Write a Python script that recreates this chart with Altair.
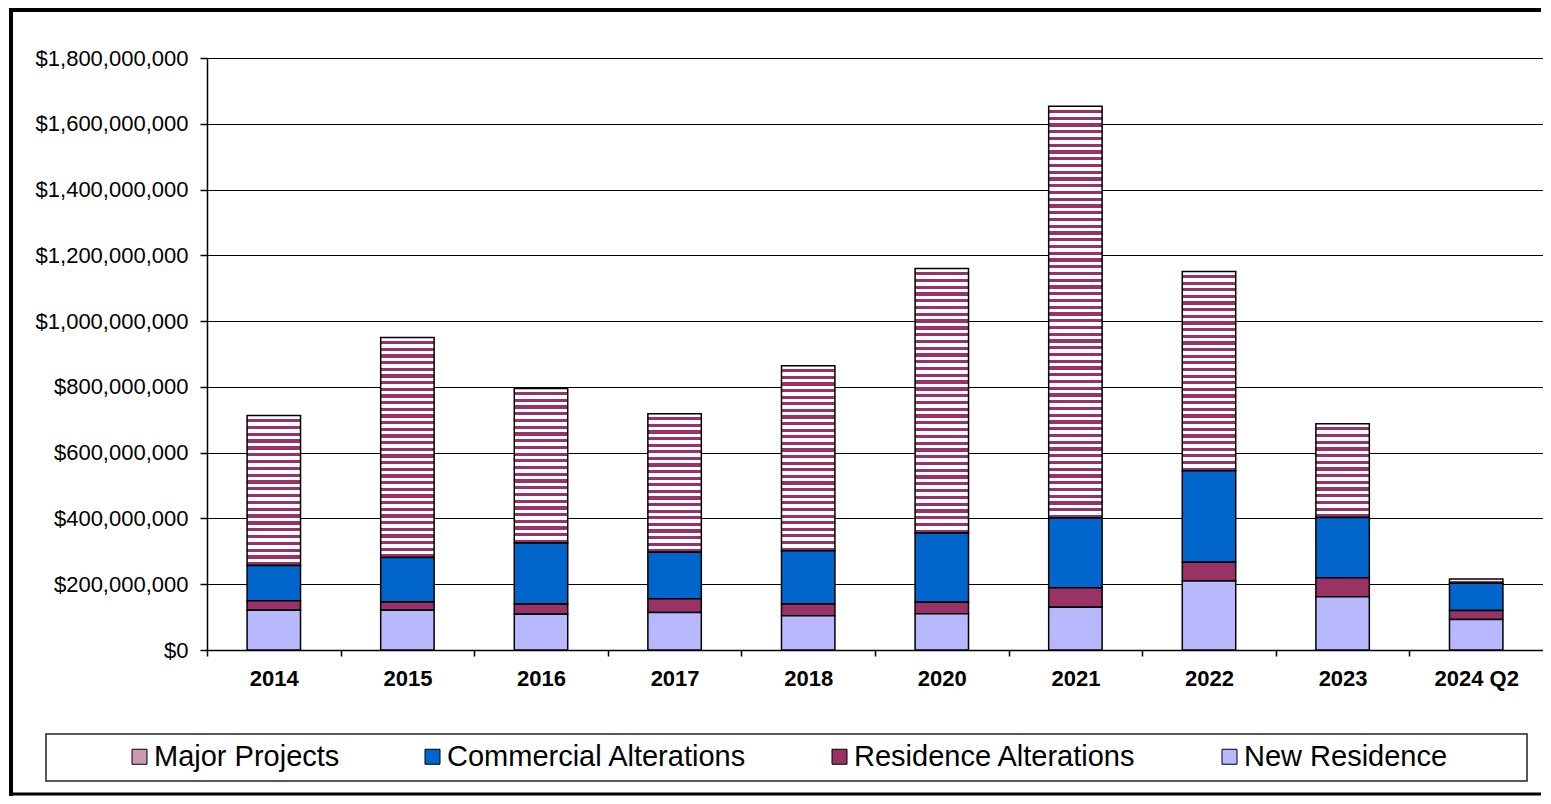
import altair as alt
import pandas as pd

years = ["2014", "2015", "2016", "2017", "2018", "2020", "2021", "2022", "2023", "2024 Q2"]
major_projects = [456e6, 669e6, 470e6, 421e6, 562e6, 804e6, 1252e6, 606e6, 285e6, 13e6]
commercial_alterations = [107e6, 135e6, 185e6, 141e6, 162e6, 211e6, 212e6, 278e6, 183e6, 83e6]
residence_alterations = [29e6, 25e6, 31e6, 42e6, 36e6, 35e6, 59e6, 57e6, 58e6, 27e6]
new_residence = [121e6, 121e6, 109e6, 114e6, 104e6, 110e6, 130e6, 210e6, 162e6, 93e6]
series_names = ["Major Projects", "Commercial Alterations", "Residence Alterations", "New Residence"]
y_ticks = [0, 2e8, 4e8, 6e8, 8e8, 1e9, 1.2e9, 1.4e9, 1.6e9, 1.8e9]

series_values = [major_projects, commercial_alterations, residence_alterations, new_residence]
stack_rank = {"New Residence": 0, "Residence Alterations": 1,
              "Commercial Alterations": 2, "Major Projects": 3}

rows = []
for name, vals in zip(series_names, series_values):
    for yr, v in zip(years, vals):
        rows.append({"year": yr, "series": name, "value": v, "rank": stack_rank[name]})
df = pd.DataFrame(rows)

PLOT_W, PLOT_H = 1336, 592
YMAX = 1.8e9
MAROON = "#993366"


def stripe_gradient(value):
    h = value / YMAX * PLOT_H
    n = max(1, round(h / 6.7))
    stops = []
    for k in range(n):
        a = k / n
        b = (k + 0.52) / n
        c = min(1.0, (k + 1) / n)
        stops += [
            {"offset": a, "color": "#ffffff"},
            {"offset": b, "color": "#ffffff"},
            {"offset": b, "color": MAROON},
            {"offset": c, "color": MAROON},
        ]
    return {"gradient": "linear", "x1": 0, "y1": 0, "x2": 0, "y2": 1, "stops": stops}


conditions = [
    {"test": f"datum.series === 'Major Projects' && datum.year === '{yr}'",
     "value": stripe_gradient(v)}
    for yr, v in zip(years, major_projects)
]

FONT = "Liberation Sans"
step = PLOT_W / len(years)

bars = alt.Chart(df).mark_bar(stroke="black", strokeWidth=1.5, fillOpacity=1).encode(
    x=alt.X("year:N", sort=years,
            scale=alt.Scale(paddingInner=0.6, paddingOuter=0.3),
            axis=alt.Axis(title=None, labelAngle=0, labelFont=FONT, labelFontSize=22,
                          labelFontWeight="bold", labelColor="black",
                          domainColor="black", domainWidth=1.5, tickColor="black",
                          tickSize=6, tickWidth=1.5, labelPadding=12, grid=False,
                          tickOffset=-step / 2, labelOffset=step / 2)),
    y=alt.Y("value:Q", stack="zero",
            scale=alt.Scale(domain=[0, YMAX], nice=False),
            axis=alt.Axis(title=None, values=y_ticks, format="$,.0f", labelFont=FONT,
                          labelFontSize=22, labelColor="black", tickSize=7,
                          tickColor="black", tickWidth=1.5, domainColor="black",
                          domainWidth=1.5, gridColor="black", gridWidth=1,
                          gridOpacity=1, labelPadding=12)),
    order=alt.Order("rank:Q", sort="ascending"),
    fill=alt.Fill("series:N",
                  scale=alt.Scale(domain=series_names,
                                  range=["#cc99b3", "#0066cc", MAROON, "#b8b8ff"]),
                  legend=alt.Legend(title=None, orient="none", legendX=-82, legendY=684,
                                    direction="horizontal", symbolType="square",
                                    symbolSize=225, labelFont=FONT, labelFontSize=29,
                                    labelColor="black", labelOffset=0, columnPadding=78,
                                    symbolStrokeColor="black", symbolStrokeWidth=1,
                                    symbolOpacity=1, padding=0, labelLimit=500),
                  condition=conditions),
)

dummy = pd.DataFrame({"a": [0]})

frame_top = alt.Chart(dummy).mark_rule(stroke="black", strokeWidth=4).encode(
    x=alt.value(-197), x2=alt.value(1334), y=alt.value(-48)
)
frame_left = alt.Chart(dummy).mark_rule(stroke="black", strokeWidth=4).encode(
    x=alt.value(-196), y=alt.value(-50), y2=alt.value(738)
)
frame_bottom = alt.Chart(dummy).mark_rule(stroke="black", strokeWidth=3).encode(
    x=alt.value(-198), x2=alt.value(1334), y=alt.value(736)
)

legend_box = alt.Chart(dummy).mark_rect(fillOpacity=0, stroke="#222222", strokeWidth=1.5).encode(
    x=alt.value(-161), x2=alt.value(1320), y=alt.value(676), y2=alt.value(723)
)

chart = alt.layer(bars, legend_box, frame_top, frame_left, frame_bottom).properties(
    width=PLOT_W, height=PLOT_H,
    padding={"left": 199, "top": 50, "right": 0, "bottom": 146},
    autosize=alt.AutoSizeParams(type="none"),
    background="white",
).configure_view(stroke=None)

chart.save("out.html", embed_options={"renderer": "svg", "actions": False})
